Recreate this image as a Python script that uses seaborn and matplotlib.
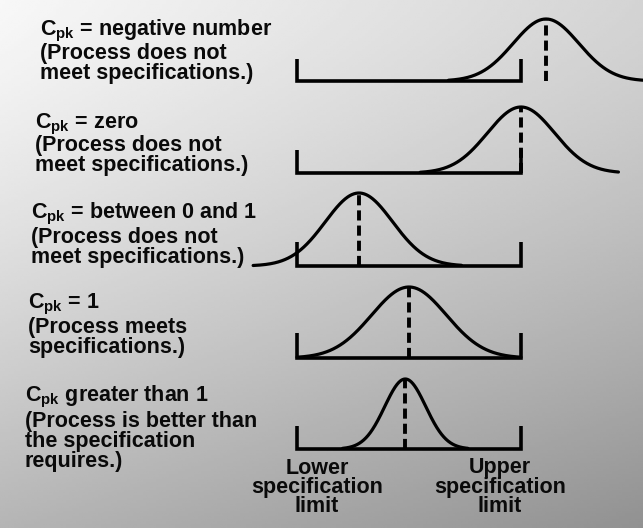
import numpy as np
import pandas as pd
import matplotlib
matplotlib.use("Agg")
import matplotlib.pyplot as plt
import seaborn as sns

# ---------------- data ----------------
LSL, USL = -3.0, 3.0                      # specification limits (process units)
case_names = ["negative", "zero", "between", "one", "greater"]
means = [3.67, 3.00, -1.34, 0.00, -0.10]  # process means
sigmas = [0.88, 0.90, 0.90, 1.00, 0.55]   # process standard deviations
tail_left = [2.97, 3.00, 3.15, 3.00, 3.05]   # drawn extent left of mean (sigmas)
tail_right = [3.40, 2.90, 3.05, 3.00, 3.05]  # drawn extent right of mean (sigmas)

block_lines = [
    ["C$_{pk}$ = negative number", "(Process does not", "meet specifications.)"],
    ["C$_{pk}$ = zero", "(Process does not", "meet specifications.)"],
    ["C$_{pk}$ = between 0 and 1", "(Process does not", "meet specifications.)"],
    ["C$_{pk}$ = 1", "(Process meets", "specifications.)"],
    ["C$_{pk}$ greater than 1", "(Process is better than", "the specification", "requires.)"],
]
limit_labels = [["Lower", "specification", "limit"], ["Upper", "specification", "limit"]]

# ---------------- layout (pixels of the 643x528 canvas) ----------------
W, H = 643, 528
LSL_PX, USL_PX = 297, 521
baseline_px = [81, 173, 266, 358, 449]
peak_px = [19, 107, 193, 287, 379]
spec_top_px = [59, 150, 242, 333, 426]
block_x = [40, 35, 31, 28, 25]
block_y = [[31, 53, 73], [124, 146, 165], [214, 237, 257], [304, 327, 347],
           [397, 421, 442, 462]]
label_x = [317, 500]
label_y = [468, 488, 507]

sns.set_theme(style="white")
plt.rcParams["font.family"] = ["Liberation Sans", "DejaVu Sans"]
plt.rcParams["mathtext.fontset"] = "custom"
plt.rcParams["mathtext.rm"] = "Liberation Sans:bold"
plt.rcParams["mathtext.it"] = "Liberation Sans:bold"
plt.rcParams["mathtext.bf"] = "Liberation Sans:bold"
plt.rcParams["mathtext.default"] = "rm"

fig = plt.figure(figsize=(W / 100, H / 100), dpi=100)

# background: scanned-paper tone, light top-left to grey bottom-right
bg = fig.add_axes([0, 0, 1, 1])
gx, gy = np.meshgrid(np.linspace(0, 1, 200), np.linspace(0, 1, 200))
shade = 0.97 - 0.26 * gy ** 1.3 - 0.14 * gx
bg.imshow(shade, cmap="gray", vmin=0, vmax=1, extent=(0, W, H, 0), aspect="auto",
          interpolation="bilinear")
bg.set_xlim(0, W)
bg.set_ylim(H, 0)
bg.axis("off")

px_per_unit = (USL_PX - LSL_PX) / (USL - LSL)
center_px = (LSL_PX + USL_PX) / 2
xlim = ((0 - center_px) / px_per_unit, (W - center_px) / px_per_unit)

lw_curve = 2.3
lw_spec = 2.6
for i, name in enumerate(case_names):
    b, p = baseline_px[i], peak_px[i]
    ax = fig.add_axes([0, (H - b) / H, 1, (b - p) / H])
    ax.patch.set_alpha(0)
    ax.set_xlim(*xlim)
    ax.set_ylim(0, 1)
    ax.axis("off")
    m, s = means[i], sigmas[i]
    x = np.linspace(m - tail_left[i] * s, m + tail_right[i] * s, 400)
    df = pd.DataFrame({"x": x, "density": np.exp(-0.5 * ((x - m) / s) ** 2)})
    sns.lineplot(data=df, x="x", y="density", ax=ax, color="black",
                 linewidth=lw_curve, sort=False, estimator=None)
    spec_h = (b - spec_top_px[i]) / (b - p)
    ax.plot([LSL, LSL, USL, USL], [spec_h, 0, 0, spec_h], color="black",
            linewidth=lw_spec, solid_joinstyle="miter", solid_capstyle="butt")
    ax.vlines(m, 0, 1, colors="black", linewidth=2.8,
              linestyles=(0, (2.6, 1.3)))
    for ln in ax.lines + ax.collections:
        ln.set_clip_on(False)

# left-hand explanatory text
for i, lines in enumerate(block_lines):
    for j, t in enumerate(lines):
        bg.text(block_x[i], block_y[i][j], t, fontsize=15.5, fontweight="bold",
                ha="left", va="center", color="#0a0a0a")

# limit labels under the last panel
for lx, lines in zip(label_x, limit_labels):
    for ly, t in zip(label_y, lines):
        bg.text(lx, ly, t, fontsize=15.5, fontweight="bold", ha="center",
                va="center", color="#0a0a0a")

fig.savefig("out.png", dpi=100)
